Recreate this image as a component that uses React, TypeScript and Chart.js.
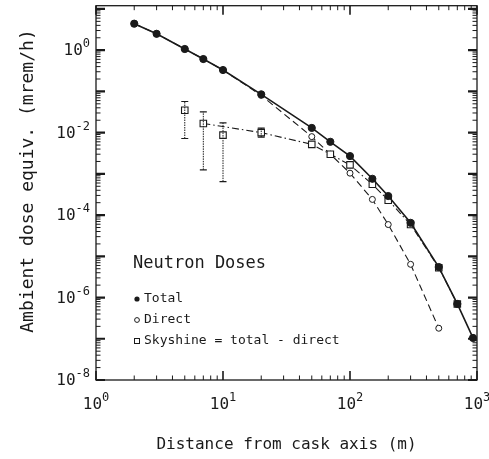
import React, { useEffect, useRef } from 'react';
import { Chart, registerables } from 'chart.js';

Chart.register(...registerables);

// ---- data ----
const totalX = [2, 3, 5, 7, 10, 20, 50, 70, 100, 150, 200, 300, 500, 700, 930];
const totalY = [4.4, 2.5, 1.07, 0.61, 0.33, 0.085, 0.013, 0.006, 0.0027, 7.6e-4, 2.9e-4, 6.5e-5, 5.5e-6, 7e-7, 1.05e-7];

const directX = [2, 3, 5, 7, 10, 20, 50, 70, 100, 150, 200, 300, 500];
const directY = [4.4, 2.5, 1.07, 0.61, 0.33, 0.08, 0.008, 0.003, 0.00104, 2.4e-4, 5.9e-5, 6.4e-6, 1.8e-7];

const skyX = [5, 7, 10, 20, 50, 70, 100, 150, 200, 300, 500, 700];
const skyY = [0.035, 0.0167, 0.0087, 0.01, 0.0052, 0.003, 0.00165, 5.6e-4, 2.3e-4, 5.9e-5, 5.3e-6, 7e-7];
// the dash-dot curve does not pass through these x values
const skyLineSkip = [5, 10];

const errX = [5, 7, 10, 20];
const errLow = [0.0072, 0.00125, 6.5e-4, 0.0078];
const errHigh = [0.057, 0.032, 0.0172, 0.0129];

const xTickExps = [0, 1, 2, 3];
const yTickExps = [0, -2, -4, -6, -8];

const xTitle = 'Distance from cask axis (m)';
const yTitle = 'Ambient dose equiv. (mrem/h)';
const legendTitle = 'Neutron Doses';
const legendLabels = ['Total', 'Direct', 'Skyshine = total - direct'];

const X_MIN = 1;
const X_MAX = 1000;
const Y_MIN = 1e-8;
const Y_MAX = 12;

const FONT = '"DejaVu Sans Mono", monospace';
const INK = '#1a1a1a';

function pts(xs: number[], ys: number[]) {
  return xs.map((x, i) => ({ x, y: ys[i] }));
}

function drawPow(ctx: CanvasRenderingContext2D, exp: number, x: number, y: number, align: 'center' | 'right') {
  const base = '10';
  const sup = String(exp);
  ctx.font = `16px ${FONT}`;
  const bw = ctx.measureText(base).width;
  ctx.font = `12px ${FONT}`;
  const sw = ctx.measureText(sup).width;
  const total = bw + sw;
  const left = align === 'right' ? x - total : x - total / 2;
  ctx.textAlign = 'left';
  ctx.textBaseline = 'middle';
  ctx.font = `16px ${FONT}`;
  ctx.fillText(base, left, y);
  ctx.font = `12px ${FONT}`;
  ctx.fillText(sup, left + bw, y - 7);
}

const framePlugin = {
  id: 'frameTicks',
  afterDatasetsDraw(chart: any) {
    const { ctx, scales } = chart;
    const x = scales.x;
    const y = scales.y;
    // error bars
    ctx.save();
    ctx.strokeStyle = INK;
    errX.forEach((xv, i) => {
      const px = x.getPixelForValue(xv);
      const pLo = y.getPixelForValue(errLow[i]);
      const pHi = y.getPixelForValue(errHigh[i]);
      ctx.lineWidth = 1;
      ctx.setLineDash([1.5, 1]);
      ctx.beginPath();
      ctx.moveTo(px, pLo);
      ctx.lineTo(px, pHi);
      ctx.stroke();
      ctx.setLineDash([]);
      ctx.lineWidth = 1.2;
      ctx.beginPath();
      ctx.moveTo(px - 3.5, pLo);
      ctx.lineTo(px + 3.5, pLo);
      ctx.moveTo(px - 3.5, pHi);
      ctx.lineTo(px + 3.5, pHi);
      ctx.stroke();
    });
    ctx.restore();
  },
  afterDraw(chart: any) {
    const { ctx, chartArea: a, scales } = chart;
    const x = scales.x;
    const y = scales.y;
    ctx.save();
    ctx.strokeStyle = INK;
    ctx.fillStyle = INK;
    ctx.lineWidth = 1.3;
    ctx.strokeRect(a.left, a.top, a.right - a.left, a.bottom - a.top);

    // x ticks (bottom and top, inward)
    for (let d = 0; d <= 3; d++) {
      for (let m = 1; m < 10; m++) {
        const v = m * Math.pow(10, d);
        if (v < X_MIN || v > X_MAX) continue;
        const px = x.getPixelForValue(v);
        const len = m === 1 ? 9 : 4.5;
        ctx.lineWidth = m === 1 ? 1.6 : 1;
        ctx.beginPath();
        ctx.moveTo(px, a.bottom);
        ctx.lineTo(px, a.bottom - len);
        ctx.moveTo(px, a.top);
        ctx.lineTo(px, a.top + len);
        ctx.stroke();
      }
    }
    // y ticks (left and right, inward)
    for (let d = -8; d <= 1; d++) {
      for (let m = 1; m < 10; m++) {
        const v = m * Math.pow(10, d);
        if (v < Y_MIN * 0.999 || v > Y_MAX) continue;
        const py = y.getPixelForValue(v);
        const len = m === 1 ? 9 : 4.5;
        ctx.lineWidth = m === 1 ? 2.2 : 1;
        ctx.beginPath();
        ctx.moveTo(a.left, py);
        ctx.lineTo(a.left + len, py);
        ctx.moveTo(a.right, py);
        ctx.lineTo(a.right - len, py);
        ctx.stroke();
      }
    }

    // tick labels
    xTickExps.forEach((e) => {
      drawPow(ctx, e, x.getPixelForValue(Math.pow(10, e)), a.bottom + 25, 'center');
    });
    yTickExps.forEach((e) => {
      drawPow(ctx, e, a.left - 6, y.getPixelForValue(Math.pow(10, e)) + 1, 'right');
    });

    // axis titles
    ctx.textAlign = 'center';
    ctx.textBaseline = 'middle';
    ctx.font = `16px ${FONT}`;
    ctx.fillText(xTitle, (a.left + a.right) / 2, 445);
    ctx.save();
    ctx.translate(28, 181);
    ctx.rotate(-Math.PI / 2);
    ctx.font = `18px ${FONT}`;
    ctx.fillText(yTitle, 0, 0);
    ctx.restore();

    // legend
    ctx.textAlign = 'left';
    ctx.font = `17px ${FONT}`;
    ctx.fillText(legendTitle, a.left + 37, 264);
    ctx.font = `13px ${FONT}`;
    const ly = [299, 320, 341];
    const mx = a.left + 41;
    legendLabels.forEach((t, i) => {
      ctx.fillText(t, mx + 7, ly[i]);
    });
    ctx.lineWidth = 1;
    ctx.beginPath();
    ctx.arc(mx, ly[0], 2.6, 0, Math.PI * 2);
    ctx.fill();
    ctx.beginPath();
    ctx.arc(mx, ly[1], 2.4, 0, Math.PI * 2);
    ctx.stroke();
    ctx.strokeRect(mx - 2.5, ly[2] - 2.5, 5, 5);
    ctx.restore();
  },
};

export default function App() {
  const ref = useRef<HTMLCanvasElement | null>(null);
  useEffect(() => {
    if (!ref.current) return;
    const skyLine = pts(skyX, skyY).filter((p) => !skyLineSkip.includes(p.x));
    const chart = new Chart(ref.current, {
      type: 'line',
      data: {
        datasets: [
          {
            label: 'Total',
            data: pts(totalX, totalY),
            borderColor: INK,
            backgroundColor: INK,
            borderWidth: 1.6,
            pointStyle: 'circle',
            pointRadius: 3.6,
            pointBorderWidth: 1,
            pointBackgroundColor: INK,
            pointBorderColor: INK,
            tension: 0,
          },
          {
            label: 'Skyshine markers',
            data: pts(skyX, skyY),
            showLine: false,
            pointStyle: 'rect',
            pointRadius: 4.6,
            pointBorderWidth: 1.1,
            pointBackgroundColor: '#ffffff',
            pointBorderColor: INK,
          },
          {
            label: 'Skyshine',
            data: skyLine,
            borderColor: INK,
            borderWidth: 1.1,
            borderDash: [7, 3, 1.5, 3],
            pointRadius: 0,
            tension: 0,
          },
          {
            label: 'Direct',
            data: pts(directX, directY),
            borderColor: INK,
            borderWidth: 1.1,
            borderDash: [7, 4],
            pointStyle: 'circle',
            pointRadius: 3,
            pointBorderWidth: 1,
            pointBackgroundColor: '#ffffff',
            pointBorderColor: INK,
            tension: 0,
          },
        ],
      },
      options: {
        responsive: false,
        animation: false,
        layout: { padding: { left: 96, right: 12, top: 5, bottom: 79 } },
        plugins: { legend: { display: false }, tooltip: { enabled: false } },
        scales: {
          x: { type: 'logarithmic', min: X_MIN, max: X_MAX, display: false },
          y: { type: 'logarithmic', min: Y_MIN, max: Y_MAX, display: false },
        },
      },
      plugins: [framePlugin],
    });
    return () => chart.destroy();
  }, []);
  return (
    <div style={{ position: 'fixed', left: 0, top: 0, width: 489, height: 459, background: '#fff' }}>
      <canvas ref={ref} width={489} height={459} style={{ display: 'block' }} />
    </div>
  );
}
